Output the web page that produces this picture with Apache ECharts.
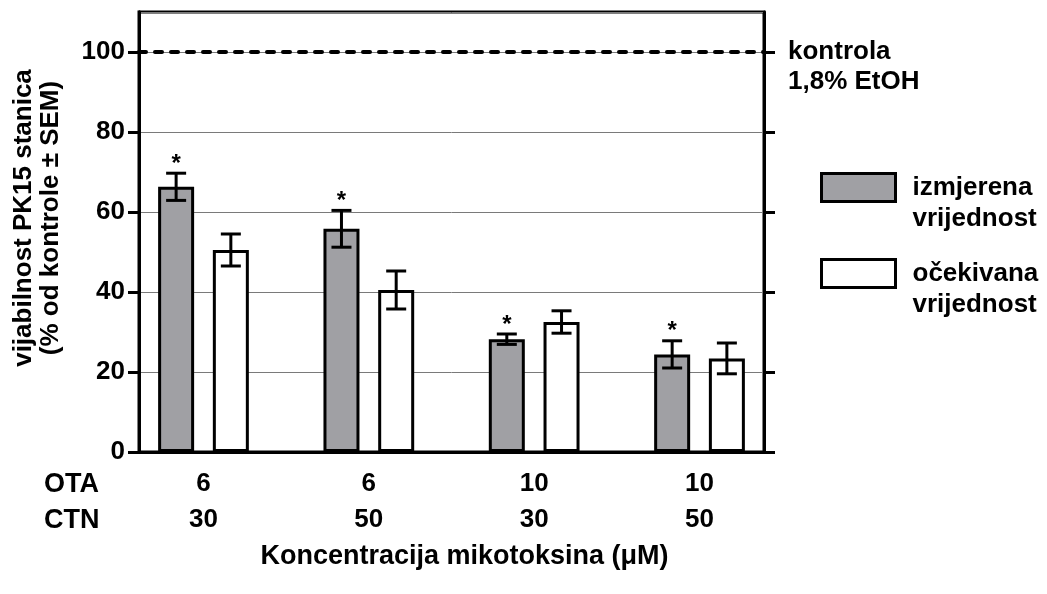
<!DOCTYPE html>
<html>
<head>
<meta charset="utf-8">
<script src="https://cdn.jsdelivr.net/npm/echarts@6/dist/echarts.min.js"></script>
<style>
html,body{margin:0;padding:0;background:#fff;}
#chart{width:1047px;height:594px;}
</style>
</head>
<body>
<div id="chart"></div>
<script>
// ---- data ----
const otaConc = ['6', '6', '10', '10'];
const ctnConc = ['30', '50', '30', '50'];
const rowHeaders = ['OTA', 'CTN'];
const measured = [66.3, 55.8, 28.2, 24.4];
const measuredSem = [3.4, 4.6, 1.3, 3.4];
const expected = [50.5, 40.5, 32.5, 23.4];
const expectedSem = [4.0, 4.75, 2.8, 3.85];
const significant = [true, true, true, true];
const controlLevel = 100;
const yTicks = [0, 20, 40, 60, 80, 100];
const seriesNames = ['izmjerena vrijednost', 'očekivana vrijednost'];
const controlLabel = 'kontrola\n1,8% EtOH';
const xName = 'Koncentracija mikotoksina (μM)';
const yName = 'vijabilnost PK15 stanica\n(% od kontrole ± SEM)';

// ---- style ----
const FONT = 'Liberation Sans, Arial, sans-serif';
const FS = 26;
const BAR_W = 36;
const BAR_GAP = 0.52;
const HALF = BAR_W * (1 + BAR_GAP) / 2;
const CAP = 10;
// group positions on the x value axis: 1..n
const groupPos = otaConc.map((_, i) => i + 1);

function errRender(side, stars) {
  return function (params, api) {
    const x = api.value(0), m = api.value(1), e = api.value(2);
    const top = api.coord([x, m + e]);
    const bot = api.coord([x, m - e]);
    const cx = top[0] + side * HALF;
    const st = { stroke: '#000', lineWidth: 3 };
    const children = [
      { type: 'line', shape: { x1: cx, y1: top[1], x2: cx, y2: bot[1] }, style: st },
      { type: 'line', shape: { x1: cx - CAP, y1: top[1], x2: cx + CAP, y2: top[1] }, style: st },
      { type: 'line', shape: { x1: cx - CAP, y1: bot[1], x2: cx + CAP, y2: bot[1] }, style: st }
    ];
    if (stars && stars[params.dataIndex]) {
      children.push({ type: 'text', style: { text: '*', x: cx, y: top[1] - 9, align: 'center', verticalAlign: 'middle', font: 'bold 24px ' + FONT, fill: '#000' } });
    }
    return { type: 'group', children };
  };
}

const chart = echarts.init(document.getElementById('chart'), null, { renderer: 'canvas' });
const txt = { color: '#000', fontFamily: FONT, fontSize: FS, fontWeight: 'bold' };
const mkAxisLine = () => ({ show: true, lineStyle: { color: '#000', width: 3 } });
const mkTicks = () => ({ show: true, inside: false, customValues: yTicks.slice(), length: 11, lineStyle: { color: '#000', width: 3 } });

chart.setOption({
  animation: false,
  backgroundColor: '#fff',
  grid: { left: 139, right: 283, top: 12, bottom: 142, show: true, borderColor: '#000', borderWidth: 3, backgroundColor: 'transparent' },
  xAxis: {
    type: 'value', min: groupPos[0] - 0.39, max: groupPos[groupPos.length - 1] + 0.39,
    axisLine: mkAxisLine(),
    axisTick: { show: false },
    splitLine: { show: false },
    axisLabel: {
      customValues: groupPos,
      formatter: v => otaConc[Math.round(v) - 1] + '\n' + ctnConc[Math.round(v) - 1],
      lineHeight: 36, margin: 14, ...txt
    },
    name: xName, nameLocation: 'middle', nameGap: 86,
    nameTextStyle: { ...txt, fontSize: 27, padding: [0, 0, 0, 26] }
  },
  yAxis: [{
    // left axis: labels, split lines and name
    type: 'value', min: 0, max: 110, position: 'left',
    axisLine: mkAxisLine(),
    axisTick: { show: false },
    axisLabel: { customValues: yTicks.slice(), margin: 14, ...txt },
    splitLine: { show: true, lineStyle: { color: '#7a7a7a', width: 1 } },
    name: yName, nameLocation: 'middle', nameGap: 75,
    nameTextStyle: { ...txt, lineHeight: 27, padding: [0, 0, 0, 28] }
  }, {
    type: 'value', min: 0, max: 110, position: 'right',
    axisLine: mkAxisLine(),
    axisTick: mkTicks(),
    axisLabel: { show: false },
    splitLine: { show: false }
  }, {
    // left tick marks
    type: 'value', min: 0, max: 110, position: 'left',
    axisLine: mkAxisLine(),
    axisTick: mkTicks(),
    axisLabel: { show: false },
    splitLine: { show: false }
  }],
  legend: [0, 1].map((k, i) => ({
    data: [seriesNames[k]],
    orient: 'vertical', left: 820, top: [141, 227][i], padding: 0,
    icon: 'rect', itemWidth: 74, itemHeight: 28,
    itemStyle: { borderColor: '#000', borderWidth: 3 },
    formatter: n => '\n' + n.replace(' ', '\n'),
    textStyle: { ...txt, lineHeight: 31, padding: [0, 0, 0, 12] },
    selectedMode: false
  })),
  series: [{
    name: seriesNames[0], type: 'bar', barWidth: BAR_W, barGap: (BAR_GAP * 100) + '%',
    data: measured.map((v, i) => [groupPos[i], v]),
    itemStyle: { color: '#a0a0a4', borderColor: '#000', borderWidth: 3 },
    markLine: {
      silent: true, symbol: 'none',
      data: [{ yAxis: controlLevel }],
      lineStyle: { color: '#000', width: 4, type: [7, 9], cap: 'round' },
      label: { show: true, position: 'end', distance: 24, formatter: '\n' + controlLabel, ...txt, lineHeight: 30 }
    }
  }, {
    name: seriesNames[1], type: 'bar', barWidth: BAR_W, barGap: (BAR_GAP * 100) + '%',
    data: expected.map((v, i) => [groupPos[i], v]),
    itemStyle: { color: '#ffffff', borderColor: '#000', borderWidth: 3 }
  }, {
    type: 'custom', renderItem: errRender(-1, significant), z: 5,
    data: measured.map((v, i) => [groupPos[i], v, measuredSem[i]])
  }, {
    type: 'custom', renderItem: errRender(1, null), z: 5,
    data: expected.map((v, i) => [groupPos[i], v, expectedSem[i]])
  }],
  graphic: [{
    type: 'text', left: 44, top: 467,
    style: { text: rowHeaders.join('\n'), font: 'bold 27px ' + FONT, lineHeight: 36, fill: '#000' }
  }]
});
</script>
</body>
</html>
